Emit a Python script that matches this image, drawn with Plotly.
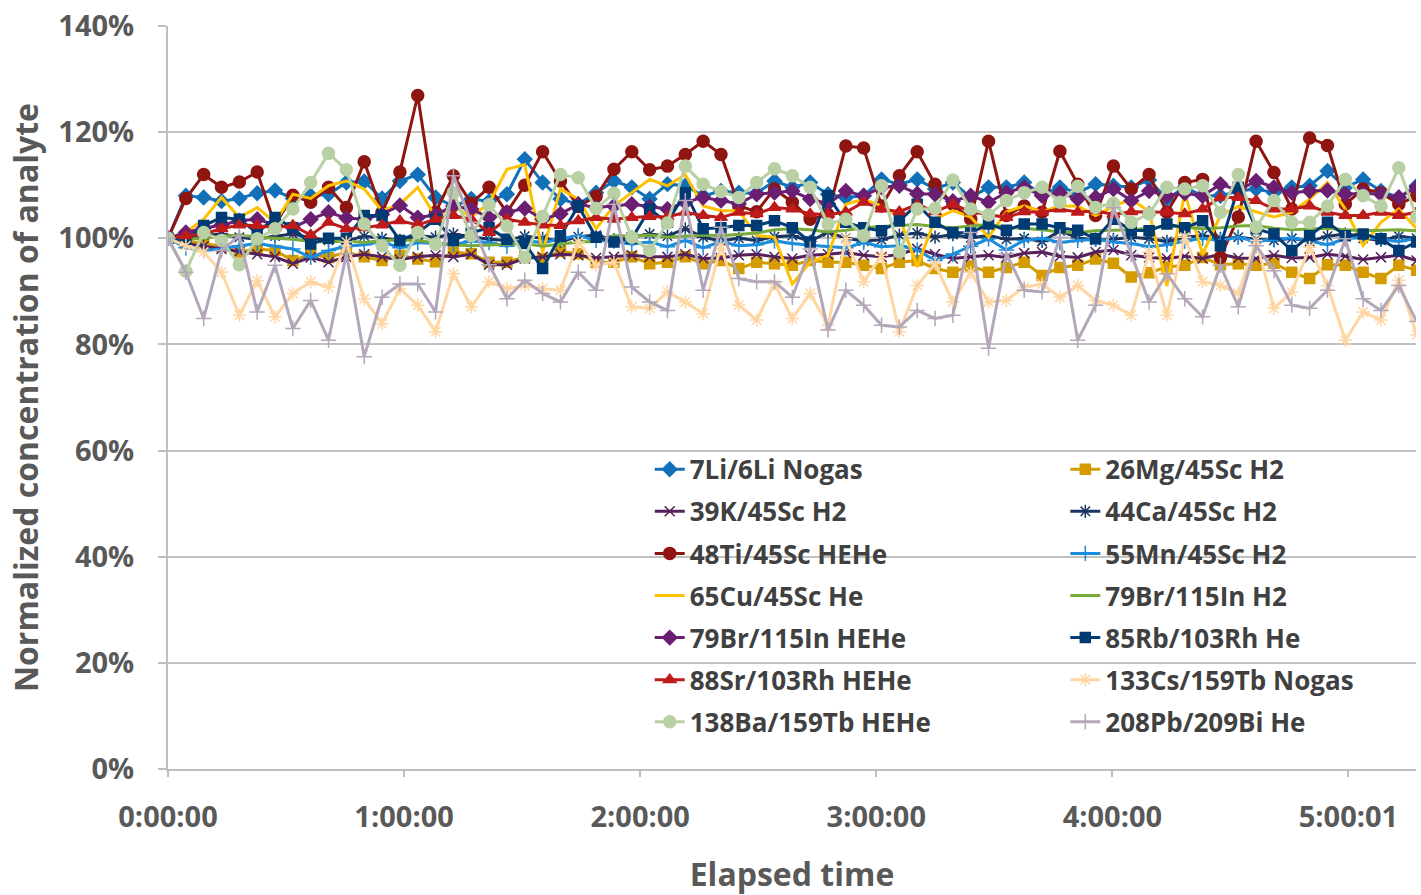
import plotly.graph_objects as go

interval_s = 272
n_points = 71
elapsed_s = [i * interval_s for i in range(n_points)]

tick_vals = [0, 3600, 7200, 10800, 14400, 18000]
tick_text = ["0:00:00", "1:00:00", "2:00:00", "3:00:00", "4:00:00", "5:00:01"]

li7 = [100,108,107.7,107,107.5,108.5,109,107.5,108,108.3,110.5,110.7,107.5,110.8,112,
       107.7,106,107.4,107,108.3,114.9,110.5,107.4,106.4,108.6,110.8,109.6,107.4,
       110.2,109.9,108,108.9,108.6,108.5,110.8,109.6,110.5,108.3,107.7,108,111.1,110.2,
       111.1,109.3,110.5,107.7,109.6,109.6,110.5,108.3,109.6,108.6,110.2,109.9,109.6,
       111,107.4,109.6,108,108,108.9,109.3,108.6,109.6,109.9,112.7,109.6,111.1,108.9,107.7,109.9]
mg26 = [100,99.5,99,98.5,97.4,98,97.7,95.8,97,96.4,97.4,96.5,95.8,96.8,96.1,
        95.6,97.4,97.1,95.5,95.5,96.5,96.2,97.5,97.1,95.5,95.5,96.5,95.2,
        95.5,96.5,95.2,95.8,94.3,95.5,95.2,94.9,95.8,95.5,95.5,94.9,94.3,95.5,
        95.8,94.3,93.6,94.8,93.6,94.5,95.5,93,94.5,94.9,96.1,95.3,92.7,
        93.5,94.6,94.9,96.4,95,95.2,94.9,95.3,93.6,92.4,95,94.9,93.6,92.4,94.9,94]
k39 = [100,99,98.5,98,97.5,97,96.5,95.2,96.4,95.5,96.5,97,96.5,96,96.5,
       96.8,96.5,97,95,95,96.2,96.5,97,96.8,96.3,96.5,96.8,96.5,
       96.5,97,96.2,96.3,96.8,97,96.5,96.2,96.8,97,97.3,96.8,96.5,97,
       98,97,96.2,96.5,96.8,96.4,97.2,97.4,96.6,96.4,97.4,97.8,96.8,
       96.4,96.2,96.6,96.2,97,96.3,96.2,96.8,96.3,96.4,97,96.6,96,96.4,96.8,95.8]
ca44 = [100,100.3,100.6,100.8,100.2,99.8,100.4,100.8,100.1,99.6,99.5,100.4,100,99.6,100.5,
        100.2,100.8,100.3,99.8,99.6,100.4,100,99.4,100.3,100.6,99.7,100.2,100.8,
        100.4,101.8,100.2,99.5,100,99.6,100.3,100.5,99.4,101.2,100,99.5,99.7,100.6,
        101,100.2,100.7,100.1,100.5,99.8,100,99.4,101.4,100.1,99.6,99.8,100.2,
        99.9,99.4,100.2,100.5,100,100.2,99.8,99.6,100,99.4,100.4,100.8,100,99.6,100.4,100]
ti48 = [100,107.5,112,109.6,110.6,112.5,102.5,108.1,106.8,109.6,105.8,114.4,104.9,112.5,126.9,
        104.9,111.8,106.6,109.6,104.9,110,116.3,110.8,106,107.9,113,116.3,112.9,
        113.6,115.8,118.3,115.8,106.1,105,109.3,106.8,103.6,104.5,117.4,117,106.1,111.8,
        116.3,110.2,106.4,103.6,118.3,104.3,106.1,104.9,116.4,110.2,104.3,113.6,109.3,
        112,104.9,110.5,111.1,96.4,104,118.3,112.4,105.5,118.9,117.5,106.4,109.3,108.6,106.4,108]
mn55 = [100,98.2,97.7,98,98.6,99,98.5,98,96.4,97.7,98.5,98.8,99.4,98.2,99.2,
        99,98.8,99.5,99.2,98.5,99.6,99.2,99.8,100.5,99.6,99.5,98.9,99.3,
        98.4,99.6,98.2,99.4,98.6,98.8,99.5,99,98.7,98.4,98.2,99.2,98.4,98.6,
        97.8,95.8,97,98.5,99.9,97.8,99.6,100,99.2,99.6,99.8,99.3,99,
        98.4,98.8,99.5,100,99.6,100.2,99.4,99.7,100.1,99.5,98.8,99.9,100.2,99.8,99.4,100]
cu65 = [100,101.1,103.6,107.7,103.9,105.8,103,108.3,107.5,109.9,110.8,109.3,105.2,106.4,109.6,
        104,106,104,106.6,113,113.9,97.4,109.3,107.4,101.8,106.1,108.6,111.1,
        109.9,112,106.1,105.2,105.2,100.5,100.2,91.4,95.5,96.8,106.4,107.4,106.1,104,
        94.6,103.6,105.2,104,100.2,105,106.1,105,106.1,106.1,104.3,106,107.4,
        105,91,108.6,97,104.3,106,105,104,104.9,107.4,110.5,105.5,98.6,103,105.5,101.8]
br79_h2 = [100,99.8,100,100.4,100.6,100.2,100,99.8,99.4,99.3,99.5,99.2,99.6,99.7,99.6,
           99.2,98.8,98.6,98.7,98.8,99,98.5,98.9,99.3,99.4,100.5,100.4,100.6,
           100.2,100.4,100.6,100.5,100.8,101,101.6,101.8,101.6,101.2,101.5,102,102.2,102.4,
           102.6,102.2,102,102.3,102.6,102.1,101.9,101.6,101.2,101.1,101.4,101.5,101.6,
           101.9,102.3,102.1,101.8,102,102.3,102.4,101.9,101.6,101.7,101.9,101.6,101.4,101.5,101.6,101.4]
br79_hehe = [100,101.1,101.9,102.5,103.3,103.6,102.5,102,103.6,104.9,103.8,103.6,104.5,106.2,103.9,
             104.4,106.1,105.5,103.9,104.9,105.6,103.6,104.6,106.4,105.8,106.1,106.4,106,
             105.5,106.8,107.7,107.1,106.5,108.3,108.6,108.9,107.4,106.5,108.9,108,109.6,109.9,
             108.4,108.3,107,108,106.8,108.6,109.6,108,108.6,107.4,107.7,109.3,107.1,
             108.9,108,108.5,108,110.2,109,110.8,109.6,108.6,108.9,109,108.3,108.5,108.3,107.7,109.6]
rb85 = [100,99.5,102.4,103.9,103.6,101,103.9,102,98.9,100,100,104.3,104.3,99.6,101,
        103.6,99.6,101,102,99.8,99,94.3,100.5,106.1,100.2,99.3,100,105.5,
        103,108.6,101.8,102,102.4,102.4,103.3,102,99.3,108,103,102,101.4,103.3,
        106.4,103,101.1,101,102.7,101.5,102.7,102.7,102,101.5,99.9,103.6,101.5,
        101.4,102.7,102,103.3,98.6,109.6,101.8,100.8,97.7,100.5,103,100.5,100.8,99.9,97.7,99.3]
sr88 = [100,100.5,100.8,101.8,102.5,102.4,102,102.4,100.6,103,101.8,102,102.5,103.3,102.5,
        103.6,104.3,103.6,101.1,103.6,103,102.5,102.4,103.3,103.9,103.6,103.9,104.1,
        104,104.9,104.3,103.9,104.9,104.6,105.8,105.5,104.6,104.5,104.9,106.8,105.5,105,
        106.4,105,106.4,105,104.5,103.9,105,104.9,105.5,104.9,105.2,104.5,105,
        104.9,104.9,104.6,105.5,107.7,107.7,107.1,105.5,105.5,106.1,104.9,104.3,104.3,104.9,104.3,104.9]
cs133 = [100,98.6,97.4,93.6,85.5,92,85.2,89.6,91.8,90.8,99.3,88.6,83.9,90.5,87.4,
         82.4,93.3,87.1,91.8,90.5,91.1,90.5,90.2,99.3,94.9,95.5,87.1,86.8,
         89.9,88,85.8,98.6,87.4,84.6,91.4,84.9,89.6,83.6,99.9,91.8,96.8,82.4,
         91.1,95.2,88,93.6,88,88.3,90.8,91.4,88.9,91.1,88.3,87.4,85.5,
         97.4,85.5,100.2,91.8,91.1,89.6,99.6,86.8,89.9,98.3,91.1,80.8,86.1,84.6,92.1,81.8]
ba138 = [100,93.8,101.1,99.6,95,99.9,101.8,105.5,110.5,116,112.9,102.7,98.6,94.9,101.1,
         98.9,108.6,100.5,106.3,102.3,96.4,104.1,112,111.4,105.6,108.5,100.2,97.7,
         102.9,113.6,110.2,108.8,107.7,110.5,113.1,111.8,109.6,102.7,103.6,100.5,109.9,97.4,
         105.5,105.6,111,105.5,104.4,107.1,108.6,109.6,106.8,109.8,105.8,106.6,103,
         104.6,109.6,109.3,109.9,104.9,112,102.1,107.1,103,103,106.1,111.1,108,106.1,113.3,104]
pb208 = [100,93.6,84.9,97.7,100.5,86.1,94.9,83,88.3,80.8,97.1,77.7,88.9,91.4,91.4,
         86.1,111.8,103,95,88.6,92.1,89.6,88,93.6,90.2,106.4,90.8,88,
         86.4,107.1,90.2,102.1,92.4,91.8,91.8,88.9,98,82.7,90.2,87.4,83.6,83.3,
         86.4,84.9,85.5,101.1,79.3,97.1,90.2,89.9,100.2,80.8,87.4,105.8,97,
         88,93.3,88.6,85.2,94.9,87.1,98.6,93.9,87.4,86.8,90.2,99.9,88.6,86.4,91.1,84.3]

series = [
    ("7Li/6Li Nogas", li7, "#1170B8", "diamond", 11, "legend"),
    ("26Mg/45Sc H2", mg26, "#D49C00", "square", 10, "legend2"),
    ("39K/45Sc H2", k39, "#56205A", "x-thin-open", 10, "legend"),
    ("44Ca/45Sc H2", ca44, "#1A3560", "asterisk-open", 11, "legend2"),
    ("48Ti/45Sc HEHe", ti48, "#8E1510", "circle", 12, "legend"),
    ("55Mn/45Sc H2", mn55, "#1C8CDC", "cross-thin-open", 11, "legend2"),
    ("65Cu/45Sc He", cu65, "#FFC000", None, 0, "legend"),
    ("79Br/115In H2", br79_h2, "#78AA3A", None, 0, "legend2"),
    ("79Br/115In HEHe", br79_hehe, "#6A1F72", "diamond", 11, "legend"),
    ("85Rb/103Rh He", rb85, "#003B74", "square", 10, "legend2"),
    ("88Sr/103Rh HEHe", sr88, "#BE1B1B", "triangle-up", 11, "legend"),
    ("133Cs/159Tb Nogas", cs133, "#FFD6A2", "asterisk-open", 11, "legend2"),
    ("138Ba/159Tb HEHe", ba138, "#B8D0A3", "circle", 12, "legend"),
    ("208Pb/209Bi He", pb208, "#B3A7B9", "cross-thin-open", 11, "legend2"),
]

FONT = "Open Sans"
fig = go.Figure()
for name, vals, color, sym, size, leg in series:
    if sym is None:
        mode = "lines"
        marker = None
    else:
        mode = "lines+markers"
        marker = dict(symbol=sym, size=size, color=color,
                      line=dict(color=color, width=1.5))
    fig.add_trace(go.Scatter(
        x=elapsed_s, y=vals, name=name, mode=mode,
        line=dict(color=color, width=3),
        marker=marker, legend=leg, legendgroup=name,
    ))

grey_text = "#595959"
legend_font = dict(family=FONT, size=26, color="#404040", weight="bold")
fig.update_layout(
    width=1421, height=895,
    margin=dict(l=168, r=5, t=24, b=126),
    paper_bgcolor="white", plot_bgcolor="white",
    font=dict(family=FONT, size=26, color=grey_text),
    showlegend=True,
    legend=dict(x=0.386, y=0.435, xanchor="left", yanchor="top",
                bgcolor="rgba(0,0,0,0)", tracegroupgap=5.3, font=legend_font),
    legend2=dict(x=0.719, y=0.435, xanchor="left", yanchor="top",
                 bgcolor="rgba(0,0,0,0)", tracegroupgap=5.3, font=legend_font),
    shapes=[dict(type="rect", xref="paper", yref="paper",
                 x0=0.334, x1=1.0, y0=0.0255, y1=0.432,
                 fillcolor="white", line=dict(width=0), layer="between")],
)
fig.update_xaxes(
    range=[0, 19030], tickvals=tick_vals, ticktext=tick_text,
    showgrid=False, showline=True, linecolor="#BFBFBF", linewidth=2,
    ticks="outside", ticklen=6, tickcolor="#BFBFBF", tickwidth=2,
    ticklabelstandoff=15,
    tickfont=dict(family=FONT, size=29, color=grey_text, weight="bold"),
    title=dict(text="Elapsed time", standoff=32,
               font=dict(family=FONT, size=32, color=grey_text, weight="bold")),
    zeroline=False,
)
fig.update_yaxes(
    range=[0, 140], dtick=20, ticksuffix="%",
    showgrid=True, gridcolor="#C0C0C0", gridwidth=2,
    showline=True, linecolor="#BFBFBF", linewidth=2,
    ticks="outside", ticklen=8, tickcolor="#BFBFBF", tickwidth=2,
    ticklabelstandoff=18,
    tickfont=dict(family=FONT, size=29, color=grey_text, weight="bold"),
    title=dict(text="Normalized concentration of analyte", standoff=10,
               font=dict(family=FONT, size=32, color=grey_text, weight="bold")),
    zeroline=False,
)

fig.write_html("out.html")
